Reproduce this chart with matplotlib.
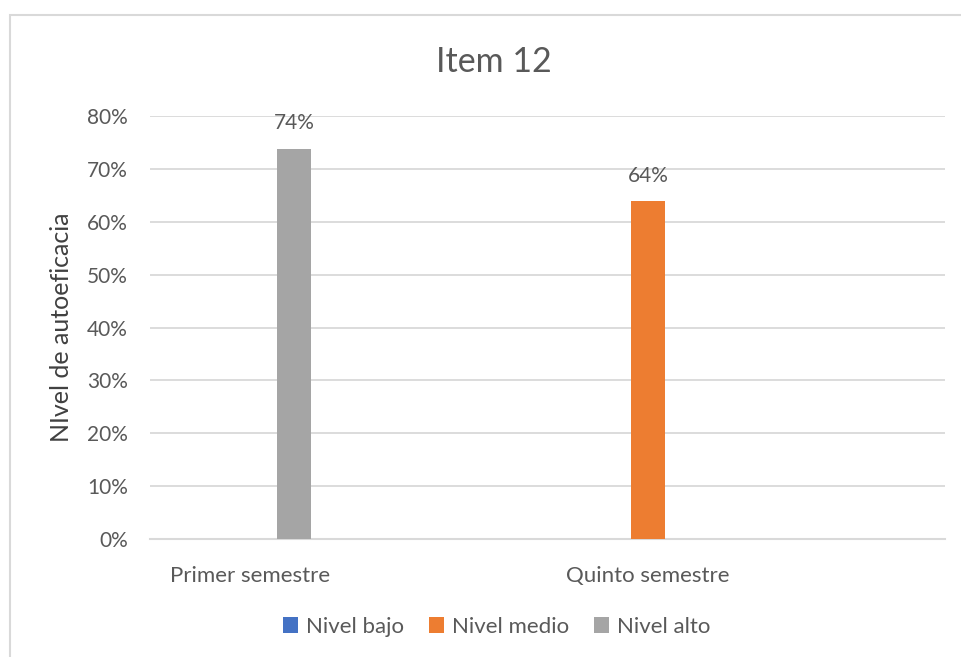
import numpy as np
import matplotlib
matplotlib.use("Agg")
import matplotlib.pyplot as plt
from matplotlib.patches import Rectangle

plt.rcParams['font.family'] = ['Lato', 'DejaVu Sans']

# data
categories = ["Primer semestre", "Quinto semestre"]
series_names = ["Nivel bajo", "Nivel medio", "Nivel alto"]
nivel_bajo = [np.nan, np.nan]
nivel_medio = [np.nan, 0.638]
nivel_alto = [0.737, np.nan]
yticks = [0, 0.1, 0.2, 0.3, 0.4, 0.5, 0.6, 0.7, 0.8]

colors = ["#4472C4", "#ED7D31", "#A5A5A5"]
text_col = "#595959"
grid_col = "#D9D9D9"

fig = plt.figure(figsize=(9.61, 6.57), dpi=100)
ax = fig.add_axes([0.1561, 0.1791, 0.8273, 0.6448])

# outer chart border
fig.patches.append(Rectangle((10 / 961, -0.05), 1.0, 1 - 15 / 657 + 0.05,
                             transform=fig.transFigure, fill=False,
                             edgecolor="#D9D9D9", linewidth=1.5))

x = np.arange(len(categories))
width = 0.0854
offset = 0.1106
all_series = [nivel_bajo, nivel_medio, nivel_alto]
handles = []
for i, (vals, name) in enumerate(zip(all_series, series_names)):
    pos = x + (i - 1) * offset
    h = ax.bar(pos, np.nan_to_num(vals), width, color=colors[i], label=name, zorder=3)
    handles.append(h)
    for p, v in zip(pos, vals):
        if not np.isnan(v):
            ax.text(p, v + 0.03, f"{v:.0%}", ha="center", va="bottom",
                    fontsize=15, color=text_col, clip_on=False)

ax.set_xlim(-0.251, 1.746)
ax.set_ylim(0, 0.8)
ax.set_yticks(yticks)
ax.set_yticklabels([f"{t:.0%}" for t in yticks])
ax.set_xticks(x)
ax.set_xticklabels(categories)
ax.tick_params(axis="y", length=0, pad=16, labelsize=15, labelcolor=text_col)
ax.tick_params(axis="x", length=0, pad=19, labelsize=16, labelcolor=text_col)
ax.grid(axis="y", color=grid_col, linewidth=1.3, zorder=0)
for s in ["top", "right", "left"]:
    ax.spines[s].set_visible(False)
ax.spines["bottom"].set_color(grid_col)
ax.spines["bottom"].set_linewidth(1.5)

ax.set_ylabel("NIvel de autoeficacia", fontsize=18, color="#404040", labelpad=10)
fig.text(0.5144, 1 - 62 / 657, "Item 12", ha="center", va="center",
         fontsize=24.5, color=text_col)

fig.legend(handles=handles, labels=series_names, loc="center",
           bbox_to_anchor=(0.5167, 1 - 627 / 657), ncol=3, frameon=False,
           fontsize=16, handlelength=0.7, handleheight=0.7, handletextpad=0.35,
           columnspacing=1.1, labelcolor=text_col)

plt.savefig("out.png", dpi=100)
